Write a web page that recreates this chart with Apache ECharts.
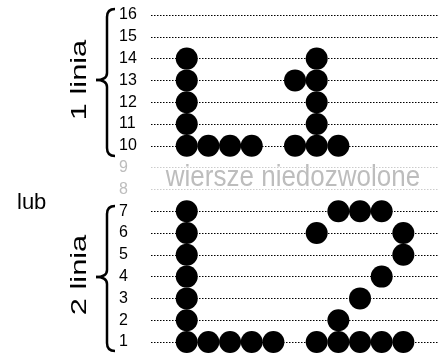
<!DOCTYPE html>
<html>
<head>
<meta charset="utf-8">
<script src="https://cdn.jsdelivr.net/npm/echarts@6/dist/echarts.min.js"></script>
<style>
  html, body { margin: 0; padding: 0; background: #fff; }
  #main { width: 438px; height: 361px; }
</style>
</head>
<body>
<div id="main"></div>
<script>
  // rzędy 1..16, 8 i 9 to wiersze niedozwolone
  const rowLabels = ['1','2','3','4','5','6','7','8','9','10','11','12','13','14','15','16']
  const forbiddenRows = [8, 9]

  // kropki [kolumna, wiersz]
  const glyphL1 = [
    [0,10],[1,10],[2,10],[3,10],[0,11],[0,12],[0,13],[0,14],
    [5,10],[6,10],[7,10],[6,11],[6,12],[6,13],[5,13],[6,14]
  ]
  const glyphL2 = [
    [0,1],[1,1],[2,1],[3,1],[4,1],[0,2],[0,3],[0,4],[0,5],[0,6],[0,7],
    [6,1],[7,1],[8,1],[9,1],[10,1],[7,2],[8,3],[9,4],[10,5],[6,6],[10,6],[7,7],[8,7],[9,7]
  ]

  const font = '"Liberation Sans", Arial, sans-serif'
  const grey = '#bdbdbd'
  const isForbidden = v => forbiddenRows.indexOf(Number(v)) !== -1

  // nawias klamrowy
  function brace (y0, ym, y1) {
    const s = { stroke: '#000', lineWidth: 2.5, fill: null }
    return {
      type: 'group',
      children: [
        { type: 'bezierCurve', shape: { x1: 115, y1: y0, cpx1: 107, cpy1: y0, x2: 107, y2: y0 + 8 }, style: s },
        { type: 'line', shape: { x1: 107, y1: y0 + 8, x2: 107, y2: ym - 7 }, style: s },
        { type: 'bezierCurve', shape: { x1: 107, y1: ym - 7, cpx1: 107, cpy1: ym, x2: 96, y2: ym }, style: s },
        { type: 'bezierCurve', shape: { x1: 96, y1: ym, cpx1: 107, cpy1: ym, x2: 107, y2: ym + 7 }, style: s },
        { type: 'line', shape: { x1: 107, y1: ym + 7, x2: 107, y2: y1 - 8 }, style: s },
        { type: 'bezierCurve', shape: { x1: 107, y1: y1 - 8, cpx1: 107, cpy1: y1, x2: 115, y2: y1 }, style: s }
      ]
    }
  }

  const myChart = echarts.init(document.getElementById('main'))
  const option = {
    animation: false,
    grid: { left: 151, right: 0, top: 15, bottom: 19 },
    xAxis: {
      type: 'value',
      min: -1.65,
      max: 11.6,
      show: false
    },
    yAxis: {
      type: 'value',
      min: 1,
      max: 16,
      interval: 1,
      axisLine: { show: false },
      axisTick: { show: false },
      axisLabel: {
        margin: 32,
        align: 'left',
        fontSize: 16,
        fontFamily: font,
        formatter: v => rowLabels[v - 1],
        color: (v, i) => isForbidden(i + 1) ? grey : '#000'
      },
      splitLine: {
        lineStyle: {
          type: [1.5, 1.5],
          width: 1,
          color: rowLabels.map(r => isForbidden(r) ? '#cccccc' : '#000')
        }
      }
    },
    series: [
      { type: 'scatter', symbolSize: 22, itemStyle: { color: '#000', opacity: 1 }, data: glyphL1 },
      { type: 'scatter', symbolSize: 22, itemStyle: { color: '#000', opacity: 1 }, data: glyphL2 }
    ],
    graphic: [
      brace(9, 80, 156),
      brace(206, 277, 351),
      {
        type: 'text', x: 80, y: 80, rotation: Math.PI / 2, scaleX: 1.4,
        style: { text: '1 linia', font: '22px ' + font, fill: '#000', align: 'center', verticalAlign: 'middle' }
      },
      {
        type: 'text', x: 80, y: 275, rotation: Math.PI / 2, scaleX: 1.4,
        style: { text: '2 linia', font: '22px ' + font, fill: '#000', align: 'center', verticalAlign: 'middle' }
      },
      {
        type: 'text', x: 17, y: 214,
        style: { text: 'lub', font: '22px ' + font, fill: '#000', align: 'left', verticalAlign: 'bottom' }
      },
      {
        type: 'text', x: 293, y: 178, scaleY: 1.1,
        style: { text: 'wiersze niedozwolone', font: '26px ' + font, fill: grey, align: 'center', verticalAlign: 'middle' }
      }
    ]
  }
  myChart.setOption(option)
</script>
</body>
</html>
